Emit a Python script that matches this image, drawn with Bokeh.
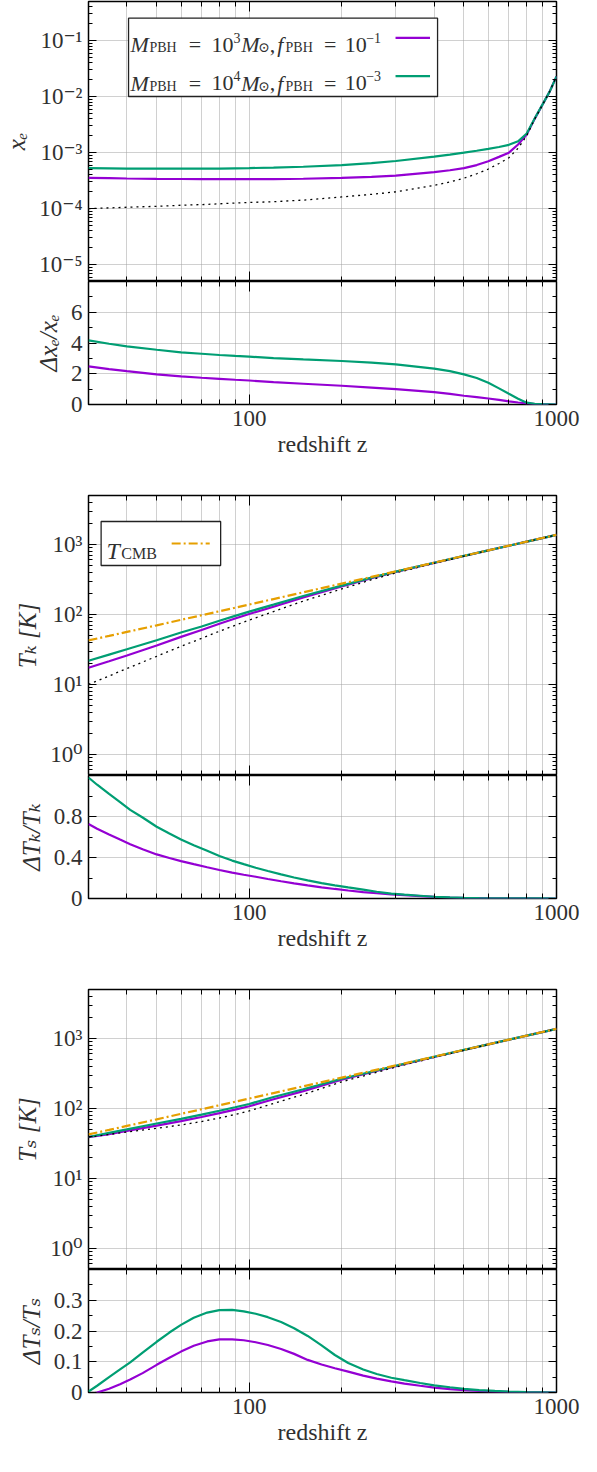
import numpy as np
from bokeh.plotting import figure
from bokeh.layouts import column
from bokeh.models import (FixedTicker, LogAxis, LinearAxis, CustomJSTickFormatter,
                          Range1d, BoxAnnotation, Label, Arrow)
from bokeh.embed import file_html
from bokeh.resources import INLINE

# ---------------- data ----------------
# ionization fraction x_e (main panel) and its relative change (ratio panel)
z_xe = [30, 35, 40, 50, 60, 70, 80, 90, 100, 120, 150, 200, 250, 300, 400, 450, 500,
        550, 600, 650, 700, 750, 800, 850, 900, 950, 1000]
xe_base = [1.0e-4, 1.03e-4, 1.06e-4, 1.1e-4, 1.15e-4, 1.18e-4, 1.22e-4, 1.26e-4, 1.29e-4,
           1.33e-4, 1.42e-4, 1.62e-4, 1.8e-4, 2.0e-4, 2.6e-4, 3.0e-4, 3.5e-4, 4.2e-4, 5.1e-4,
           6.4e-4, 8.1e-4, 1.2e-3, 2.0e-3, 4.0e-3, 7.1e-3, 1.23e-2, 2.3e-2]
xe_m3 = [3.55e-4, 3.5e-4, 3.45e-4, 3.4e-4, 3.38e-4, 3.37e-4, 3.36e-4, 3.36e-4, 3.36e-4,
         3.37e-4, 3.42e-4, 3.55e-4, 3.7e-4, 3.9e-4, 4.5e-4, 4.85e-4, 5.3e-4, 6.0e-4, 7.0e-4,
         8.4e-4, 1.0e-3, 1.4e-3, 2.1e-3, 4.05e-3, 7.15e-3, 1.23e-2, 2.3e-2]
xe_m4 = [5.3e-4, 5.25e-4, 5.2e-4, 5.2e-4, 5.2e-4, 5.2e-4, 5.2e-4, 5.25e-4, 5.3e-4,
         5.4e-4, 5.6e-4, 6.0e-4, 6.5e-4, 7.1e-4, 8.5e-4, 9.2e-4, 1.0e-3, 1.08e-3, 1.17e-3,
         1.26e-3, 1.38e-3, 1.6e-3, 2.2e-3, 4.1e-3, 7.2e-3, 1.23e-2, 2.3e-2]
dxe_m3 = [2.48, 2.3, 2.17, 1.96, 1.83, 1.74, 1.67, 1.61, 1.56, 1.45, 1.35, 1.22, 1.1, 1.0,
          0.81, 0.69, 0.57, 0.48, 0.39, 0.3, 0.2, 0.13, 0.07, 0.03, 0.015, 0.007, 0.0]
dxe_m4 = [4.17, 3.95, 3.78, 3.56, 3.39, 3.3, 3.22, 3.16, 3.11, 3.02, 2.93, 2.83, 2.72, 2.61,
          2.33, 2.17, 1.96, 1.72, 1.41, 1.05, 0.70, 0.38, 0.12, 0.04, 0.02, 0.01, 0.0]

# temperatures (main panels)
z_T = [30, 35, 40, 50, 60, 70, 80, 90, 100, 120, 150, 200, 250, 300, 400, 500, 600, 700,
       800, 900, 1000]
T_cmb = [42.5, 49.3, 56.2, 69.9, 83.6, 97.3, 111.0, 124.7, 138.4, 165.8, 206.9, 275.4,
         343.9, 412.4, 549.4, 686.4, 823.4, 960.4, 1097.4, 1234.4, 1371.4]
Tk_base = [10.0, 13.2, 16.9, 25.2, 35.0, 45.5, 57.5, 70.0, 83.0, 110.0, 155.0, 231.0, 313.0,
           392.0, 538.0, 680.0, 820.0, 958.0, 1095.0, 1232.0, 1370.0]
Tk_m3 = [17.3, 21.4, 25.9, 35.9, 47.8, 60.0, 73.5, 87.4, 101.4, 128.9, 174.8, 250.6, 330.2,
         405.7, 545.0, 684.1, 822.5, 959.0, 1095.5, 1232.2, 1370.0]
Tk_m4 = [21.8, 26.7, 31.8, 42.8, 55.2, 67.3, 81.1, 95.2, 109.6, 138.0, 183.7, 258.3, 335.5,
         408.5, 546.6, 684.8, 822.5, 959.0, 1095.5, 1232.2, 1370.0]
Ts_base = [39.0, 42.5, 46.0, 52.0, 58.0, 65.0, 73.0, 82.0, 92.0, 118.0, 158.0, 240.0, 313.0,
           390.0, 535.0, 678.0, 818.0, 957.0, 1095.0, 1232.0, 1370.0]
Ts_m3 = [38.8, 43.0, 47.8, 56.8, 65.9, 75.4, 85.7, 96.2, 107.4, 135.5, 176.6, 257.8, 328.7,
         402.9, 543.6, 683.1, 821.3, 958.9, 1096.1, 1232.6, 1370.0]
Ts_m4 = [39.1, 44.8, 50.2, 60.9, 71.0, 81.5, 92.7, 104.0, 115.8, 145.8, 188.0, 265.2, 334.3,
         407.2, 546.8, 685.5, 822.1, 959.9, 1097.2, 1233.2, 1370.0]

# relative temperature changes (ratio panels)
z_r = [30, 32, 35, 38, 41, 45, 50, 55, 60, 66, 73, 80, 88, 96, 105, 115, 127, 140, 155, 172,
       190, 210, 235, 260, 290, 320, 360, 400, 450, 500, 560, 630, 700, 800, 900, 1000]
dTk_m3 = [0.727, 0.68, 0.625, 0.575, 0.53, 0.48, 0.43, 0.395, 0.365, 0.335, 0.305, 0.278,
          0.252, 0.232, 0.212, 0.19, 0.168, 0.148, 0.128, 0.109, 0.093, 0.078, 0.063, 0.051,
          0.04, 0.032, 0.023, 0.016, 0.01, 0.006, 0.004, 0.002, 0.001, 0.0005, 0.0002, 0.0]
dTk_m4 = [1.18, 1.11, 1.02, 0.94, 0.865, 0.79, 0.70, 0.635, 0.576, 0.52, 0.465, 0.415,
          0.37, 0.335, 0.30, 0.268, 0.235, 0.205, 0.177, 0.15, 0.128, 0.108, 0.087, 0.066,
          0.048, 0.037, 0.027, 0.017, 0.011, 0.007, 0.004, 0.002, 0.0012, 0.0006, 0.0003, 0.0]
dTs_m3 = [-0.006, 0.0, 0.012, 0.027, 0.042, 0.063, 0.09, 0.113, 0.133, 0.152, 0.166, 0.173,
          0.173, 0.17, 0.1635, 0.1545, 0.1415, 0.1256, 0.106, 0.091, 0.079, 0.068, 0.055,
          0.045, 0.036, 0.029, 0.022, 0.016, 0.011, 0.0075, 0.005, 0.003, 0.002, 0.001,
          0.0005, 0.0]
dTs_m4 = [0.003, 0.022, 0.05, 0.075, 0.098, 0.13, 0.165, 0.195, 0.22, 0.243, 0.26, 0.268,
          0.2687, 0.264, 0.256, 0.245, 0.229, 0.209, 0.184, 0.153, 0.122, 0.096, 0.075, 0.06,
          0.048, 0.04, 0.031, 0.023, 0.017, 0.012, 0.008, 0.005, 0.003, 0.0015, 0.0007, 0.0]

x_major = [100, 1000]
x_minor = [40, 50, 60, 70, 80, 90, 200, 300, 400, 500, 600, 700, 800, 900]

# ---------------- style ----------------
FONT = "'Liberation Serif', 'DejaVu Serif', serif"
TXT = "#303030"
C_M3 = "#9400d3"
C_M4 = "#009e73"
C_CMB = "#e69f00"
GRID = "#a0a0a0"

W = 581
BL, BR = 85, 25
FW = W - BL - BR
HM, HR = 280, 123
X_LO, X_HI = 30, 1000

SUP_JS = """
const sup = {"-": "\u207b", "0": "\u2070", "1": "\u00b9", "2": "\u00b2", "3": "\u00b3",
             "4": "\u2074", "5": "\u2075", "6": "\u2076", "7": "\u2077", "8": "\u2078", "9": "\u2079"};
const e = Math.round(Math.log10(tick));
return "10" + String(e).split("").map(c => sup[c]).join("");
"""
PLAIN_JS = "return (Math.round(tick*1000)/1000).toString();"
BLANK_JS = "return '';"


def log_minor(lo, hi):
    out = []
    for n in range(int(np.floor(np.log10(lo))), int(np.ceil(np.log10(hi))) + 1):
        for k in range(2, 10):
            v = k * 10.0 ** n
            if lo <= v <= hi:
                out.append(v)
    return out


def style_axis(ax, ticker, code, tmaj, tmin, show):
    ax.ticker = ticker
    ax.formatter = CustomJSTickFormatter(code=code)
    ax.major_tick_in = tmaj
    ax.major_tick_out = 0
    ax.minor_tick_in = tmin
    ax.minor_tick_out = 0
    ax.major_tick_line_color = "black"
    ax.minor_tick_line_color = "black"
    ax.major_tick_line_width = 1
    ax.minor_tick_line_width = 1
    ax.axis_line_color = None
    if show:
        ax.major_label_text_font = FONT
        ax.major_label_text_font_size = "23px"
        ax.major_label_text_color = TXT
        ax.major_label_standoff = 6
    else:
        ax.major_label_text_font_size = "0px"
        ax.major_label_standoff = 0


def make_panel(height, top, bottom, ylog, ylo, yhi, ymaj, ymin, ylabel, xlabels):
    p = figure(width=W, height=height, title=None, x_axis_type="log",
               y_axis_type="log" if ylog else "linear",
               x_range=Range1d(X_LO, X_HI), y_range=Range1d(ylo, yhi),
               output_backend="svg", toolbar_location=None,
               min_border_left=BL, min_border_right=BR,
               min_border_top=top, min_border_bottom=bottom)
    p.outline_line_color = "black"
    p.outline_line_width = 1.5
    p.outline_line_alpha = 1.0
    xt = FixedTicker(ticks=x_major, minor_ticks=x_minor)
    yt = FixedTicker(ticks=ymaj, minor_ticks=ymin)
    ycode = SUP_JS if ylog else PLAIN_JS

    style_axis(p.xaxis[0], xt, PLAIN_JS if xlabels else BLANK_JS, 10, 5, xlabels)
    if xlabels:
        p.xaxis[0].axis_label = "redshift z"
        p.xaxis[0].axis_label_text_font = FONT
        p.xaxis[0].axis_label_text_font_size = "24px"
        p.xaxis[0].axis_label_text_font_style = "normal"
        p.xaxis[0].axis_label_text_color = TXT
        p.xaxis[0].axis_label_standoff = 2
    style_axis(p.yaxis[0], yt, ycode, 8, 4, True)
    p.yaxis[0].axis_label = ylabel
    p.yaxis[0].axis_label_text_font = FONT
    p.yaxis[0].axis_label_text_font_size = "25px"
    p.yaxis[0].axis_label_text_font_style = "italic"
    p.yaxis[0].axis_label_text_color = TXT
    p.yaxis[0].axis_label_standoff = 6

    top_ax = LogAxis()
    style_axis(top_ax, xt, BLANK_JS, 10, 5, False)
    p.add_layout(top_ax, "above")
    right_ax = LogAxis() if ylog else LinearAxis()
    style_axis(right_ax, yt, BLANK_JS, 8, 4, False)
    p.add_layout(right_ax, "right")

    p.xgrid.ticker = xt
    p.xgrid.grid_line_color = GRID
    p.xgrid.grid_line_dash = "1 1"
    p.xgrid.minor_grid_line_color = GRID
    p.xgrid.minor_grid_line_dash = "1 1"
    p.ygrid.ticker = yt
    p.ygrid.grid_line_color = GRID
    p.ygrid.grid_line_dash = "1 1"
    p.ygrid.minor_grid_line_color = None
    p.background_fill_color = "white"
    p.border_fill_color = "white"
    return p


def xpx(px):
    return 10 ** (np.log10(X_LO) + px / FW * np.log10(X_HI / X_LO))


def ypx(py, lo, hi):
    return 10 ** (np.log10(hi) - py / HM * np.log10(hi / lo))


def text_runs(p, items, base, lo, hi):
    for txt, px, dy, size, style in items:
        p.add_layout(Label(x=xpx(px), y=ypx(base + dy, lo, hi), text=txt,
                           text_font=FONT, text_font_size=f"{size}px",
                           text_font_style=style, text_color=TXT,
                           text_baseline="alphabetic", text_align="left"))


DASH_BASE = "2 4"
DASH_CMB = "9 3 2 3"

# ---------------- panel 1: x_e ----------------
XE_LO, XE_HI = 5e-6, 0.5
p1 = make_panel(1 + HM, 1, 0, True, XE_LO, XE_HI, [1e-5, 1e-4, 1e-3, 1e-2, 1e-1],
                log_minor(XE_LO, XE_HI), "x\u2091", False)
p1.line(z_xe, xe_m3, line_color=C_M3, line_width=2.2)
p1.line(z_xe, xe_m4, line_color=C_M4, line_width=2.2)
p1.line(z_xe, xe_base, line_color="black", line_width=1.3, line_dash=DASH_BASE)

p1.add_layout(BoxAnnotation(left=xpx(40.3), right=xpx(351.3), top=ypx(16.7, XE_LO, XE_HI),
                            bottom=ypx(95, XE_LO, XE_HI), fill_color="white", fill_alpha=1.0,
                            line_color="#222222", line_width=1.3, line_alpha=1.0))
for base, mexp, fexp, col in [(43.3, "3", "\u22121", C_M3), (81.7, "4", "\u22123", C_M4)]:
    items = [("M", 42.3, 0, 22, "italic"),
             ("PBH", 61.3, 3, 14, "normal"),
             ("=", 101, 0, 22, "normal"),
             ("10", 123.7, 0, 22, "normal"),
             (mexp, 146, -7, 14, "normal"),
             ("M", 153.7, 0, 22, "italic"),
             ("\u2299", 170.5, 3, 14, "normal"),
             (",", 182.5, 0, 22, "normal"),
             ("f", 190, 0, 22, "italic"),
             ("PBH", 198.3, 3, 14, "normal"),
             ("=", 237, 0, 22, "normal"),
             ("10", 258, 0, 22, "normal"),
             (fexp, 279.5, -7, 14, "normal")]
    text_runs(p1, items, base, XE_LO, XE_HI)
    ly = ypx(base - 7, XE_LO, XE_HI)
    p1.add_layout(Arrow(end=None, x_start=xpx(309), y_start=ly, x_end=xpx(343.7), y_end=ly,
                        line_color=col, line_width=2.2))

r1 = make_panel(HR + 61, 0, 61, False, 0, 8, [0, 2, 4, 6], [1, 3, 5, 7],
                "\u0394x\u2091/x\u2091", True)
r1.line(z_xe, dxe_m3, line_color=C_M3, line_width=2.2)
r1.line(z_xe, dxe_m4, line_color=C_M4, line_width=2.2)

# ---------------- panel 2: T_k ----------------
T_LO, T_HI = 0.5, 5000
T_MAJ = [1, 10, 100, 1000]
p2 = make_panel(30 + HM, 30, 0, True, T_LO, T_HI, T_MAJ, log_minor(T_LO, T_HI),
                "T\u2096 [K]", False)
p2.line(z_T, Tk_m3, line_color=C_M3, line_width=2.2)
p2.line(z_T, Tk_m4, line_color=C_M4, line_width=2.2)
p2.line(z_T, Tk_base, line_color="black", line_width=1.3, line_dash=DASH_BASE)
p2.line(z_T, T_cmb, line_color=C_CMB, line_width=2.2, line_dash=DASH_CMB)

p2.add_layout(BoxAnnotation(left=xpx(12.7), right=xpx(133), top=ypx(26, T_LO, T_HI),
                            bottom=ypx(70, T_LO, T_HI), fill_color="white", fill_alpha=1.0,
                            line_color="#222222", line_width=1.3, line_alpha=1.0))
text_runs(p2, [("T", 18, 0, 24, "italic"), ("CMB", 33, 3.4, 16, "normal")], 55, T_LO, T_HI)
ly2 = ypx(48, T_LO, T_HI)
p2.add_layout(Arrow(end=None, x_start=xpx(83.7), y_start=ly2, x_end=xpx(122), y_end=ly2,
                    line_color=C_CMB, line_width=2.2, line_dash=DASH_CMB))

r2 = make_panel(HR + 61, 0, 61, False, 0, 1.2, [0, 0.4, 0.8], [0.2, 0.6, 1.0],
                "\u0394T\u2096/T\u2096", True)
r2.line(z_r, dTk_m3, line_color=C_M3, line_width=2.2)
r2.line(z_r, dTk_m4, line_color=C_M4, line_width=2.2)

# ---------------- panel 3: T_s ----------------
p3 = make_panel(30 + HM, 30, 0, True, T_LO, T_HI, T_MAJ, log_minor(T_LO, T_HI),
                "T\u209b [K]", False)
p3.line(z_T, Ts_m3, line_color=C_M3, line_width=2.2)
p3.line(z_T, Ts_m4, line_color=C_M4, line_width=2.2)
p3.line(z_T, Ts_base, line_color="black", line_width=1.3, line_dash=DASH_BASE)
p3.line(z_T, T_cmb, line_color=C_CMB, line_width=2.2, line_dash=DASH_CMB)

r3 = make_panel(HR + 60, 0, 60, False, 0, 0.4, [0, 0.1, 0.2, 0.3], [0.05, 0.15, 0.25, 0.35],
                "\u0394T\u209b/T\u209b", True)
r3.line(z_r, dTs_m3, line_color=C_M3, line_width=2.2)
r3.line(z_r, dTs_m4, line_color=C_M4, line_width=2.2)

layout = column(p1, r1, p2, r2, p3, r3, spacing=0)
open("out.html", "w").write(file_html(layout, INLINE))
